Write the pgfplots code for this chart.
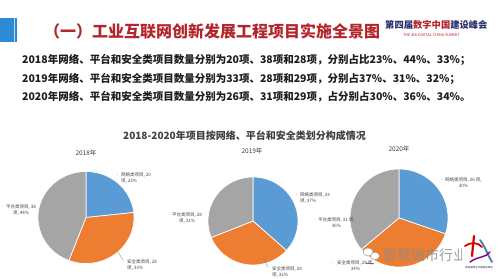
\documentclass[border=0pt]{standalone}
\usepackage{pgfplots}
\pgfplotsset{compat=1.18}
\usepackage{fontspec}
\setmainfont{Noto Sans CJK SC}
\definecolor{netblue}{HTML}{5B9BD5}
\definecolor{safeorange}{HTML}{ED7D31}
\definecolor{platgray}{HTML}{A5A5A5}
\definecolor{titlered}{HTML}{B3262B}
\definecolor{barblue}{HTML}{2D8BD6}
\definecolor{txt}{HTML}{1E1E1E}
\definecolor{lab}{HTML}{404040}
\definecolor{navy}{HTML}{2B2F6B}
% counts: network, safety, platform
\def\NetA{20}\def\SafeA{28}\def\PlatA{38}
\def\NetB{33}\def\SafeB{29}\def\PlatB{28}
\def\NetC{26}\def\SafeC{29}\def\PlatC{31}
\newcommand\piewedge[7]{%
  \edef\tmp{\noexpand\addplot[fill=#7, draw=white, line width=0.7pt, domain=#6:#5, samples=80] ({#1+#3*cos(x)},{#2-#4*sin(x)}) -- (axis cs:#1,#2) -- cycle;}\tmp}
\newcommand\piechart[7]{% cx cy rx ry net safe plat
  \pgfmathsetmacro\pa{90}%
  \pgfmathsetmacro\pb{90-360*#5/(#5+#6+#7)}%
  \pgfmathsetmacro\pc{\pb-360*#6/(#5+#6+#7)}%
  \pgfmathsetmacro\pd{-270}%
  \piewedge{#1}{#2}{#3}{#4}{\pa}{\pb}{netblue}%
  \piewedge{#1}{#2}{#3}{#4}{\pb}{\pc}{safeorange}%
  \piewedge{#1}{#2}{#3}{#4}{\pc}{\pd}{platgray}}
\newcommand\lbl{\fontsize{4.5}{5.6}\selectfont}
\begin{document}
\begin{tikzpicture}
\begin{axis}[width=499pt, height=279pt, scale only axis, xmin=0, xmax=499, ymin=0, ymax=279, y dir=reverse, hide axis, clip=false]
\fill[white] (axis cs:0,0) rectangle (axis cs:499,279);
% title bar
\fill[barblue] (axis cs:0,18) rectangle (axis cs:17,42);
\draw[white!70!barblue, line width=0.8pt] (axis cs:14.5,18) -- (axis cs:14.5,42);
\node[anchor=west, inner sep=0, text=titlered, font=\fontsize{16}{17}\selectfont\bfseries] at (axis cs:44,31) {（一）工业互联网创新发展工程项目实施全景图};
\node[anchor=west, inner sep=0, font=\fontsize{9.3}{10}\selectfont\bfseries] at (axis cs:385,25) {\textcolor{navy}{第四届}\textcolor{titlered}{数字中国}\textcolor{navy}{建设峰会}};
\node[anchor=west, inner sep=0, text=titlered, font=\fontsize{3.8}{4}\selectfont] at (axis cs:403,35) {THE 4th DIGITAL CHINA SUMMIT};
% text lines
\node[anchor=west, inner sep=0, text=txt, font=\fontsize{10.5}{11}\selectfont\bfseries] at (axis cs:22,60) {2018年网络、平台和安全类项目数量分别为20项、38项和28项，分别占比23\%、44\%、33\%；};
\node[anchor=west, inner sep=0, text=txt, font=\fontsize{10.5}{11}\selectfont\bfseries] at (axis cs:22,78.5) {2019年网络、平台和安全类项目数量分别为33项、28项和29项，分别占37\%、31\%、32\%；};
\node[anchor=west, inner sep=0, text=txt, font=\fontsize{10.5}{11}\selectfont\bfseries] at (axis cs:22,97) {2020年网络、平台和安全类项目数量分别为26项、31项和29项，占分别占30\%、36\%、34\%。};
% subtitle
\node[inner sep=0, text=lab, font=\fontsize{10}{11}\selectfont\bfseries] at (axis cs:244.5,136) {2018-2020年项目按网络、平台和安全类划分构成情况};
\node[inner sep=0, text=lab, font=\fontsize{6.5}{7}\selectfont] at (axis cs:86,153) {2018年};
\node[inner sep=0, text=lab, font=\fontsize{6.5}{7}\selectfont] at (axis cs:252,151) {2019年};
\node[inner sep=0, text=lab, font=\fontsize{6.5}{7}\selectfont] at (axis cs:399,149) {2020年};
% pies
\piechart{86}{217.5}{48}{46}{\NetA}{\SafeA}{\PlatA}
\piechart{253}{221}{45}{44}{\NetB}{\SafeB}{\PlatB}
\piechart{399}{218}{49}{49}{\NetC}{\SafeC}{\PlatC}
% leader lines
\draw[gray, line width=0.3pt] (axis cs:118,252) -- (axis cs:123,260);
\draw[gray, line width=0.3pt] (axis cs:263,258) -- (axis cs:268,267);
\draw[gray, line width=0.3pt] (axis cs:366,263) -- (axis cs:374,263);
% labels 2018
\node[inner sep=0, text=netblue, font=\lbl] at (axis cs:117.5,175) {•};
\node[anchor=west, align=left, inner sep=0, text=lab, font=\lbl] at (axis cs:121,177.8) {网络类项目, 20\\项, 23\%};
\node[inner sep=0, text=platgray, font=\lbl] at (axis cs:3,207) {•};
\node[align=center, inner sep=0, text=lab, font=\lbl] at (axis cs:21,209.8) {平台类项目, 38\\项, 44\%};
\node[inner sep=0, text=safeorange, font=\lbl] at (axis cs:123.5,262) {•};
\node[anchor=west, align=left, inner sep=0, text=lab, font=\lbl] at (axis cs:127,264.8) {安全类项目, 28\\项, 33\%};
% labels 2019
\node[inner sep=0, text=netblue, font=\lbl] at (axis cs:296.5,195) {•};
\node[anchor=west, align=left, inner sep=0, text=lab, font=\lbl] at (axis cs:300,197.8) {网络类项目, 33\\项, 37\%};
\node[inner sep=0, text=platgray, font=\lbl] at (axis cs:169,215) {•};
\node[anchor=west, align=center, inner sep=0, text=lab, font=\lbl] at (axis cs:172,217.8) {平台类项目, 28\\项, 31\%};
\node[anchor=west, align=left, inner sep=0, text=lab, font=\lbl] at (axis cs:272,271.8) {安全类项目, 29\\项, 32\%};
% labels 2020
\node[inner sep=0, text=netblue, font=\lbl] at (axis cs:442,180) {•};
\node[anchor=west, align=center, inner sep=0, text=lab, font=\lbl] at (axis cs:445,182.8) {网络类项目, 26 项,\\30\%};
\node[inner sep=0, text=platgray, font=\lbl] at (axis cs:315,220) {•};
\node[anchor=west, align=center, inner sep=0, text=lab, font=\lbl] at (axis cs:318,222.8) {平台类项目, 31 项,\\36\%};
\node[inner sep=0, text=safeorange, font=\lbl] at (axis cs:333,263) {•};
\node[anchor=west, align=center, inner sep=0, text=lab, font=\lbl] at (axis cs:337,265.8) {安全类项目, 29 项,\\34\%};
% watermark
\draw[gray!70, fill=white, line width=0.5pt] (axis cs:368,252) ellipse [x radius=5pt, y radius=4pt];
\draw[gray!70, fill=white, line width=0.5pt] (axis cs:375,256) ellipse [x radius=4.5pt, y radius=3.6pt];
\node[anchor=west, inner sep=0, text=black!45, opacity=0.85, font=\fontsize{14}{15}\selectfont] at (axis cs:383,255) {智慧城市行业动态};
% logo (approximate)
\fill[white, opacity=0.9] (axis cs:462,232) rectangle (axis cs:497,272);
\draw[red!85!black, line width=2.2pt, line cap=round] (axis cs:474,236) -- (axis cs:472,256);
\draw[red!85!black, line width=1.8pt, line cap=round] (axis cs:465,246) .. controls (axis cs:470,242) and (axis cs:478,242) .. (axis cs:482,247);
\draw[netblue!80!black, line width=1.8pt, line cap=round] (axis cs:480,240) .. controls (axis cs:486,248) and (axis cs:488,256) .. (axis cs:492,262);
\draw[violet, line width=1.4pt, line cap=round] (axis cs:470,262) .. controls (axis cs:478,256) and (axis cs:486,258) .. (axis cs:490,252);
\node[inner sep=0, text=navy, font=\fontsize{2.5}{3}\selectfont] at (axis cs:479,268) {第四届数字中国建设峰会};
\end{axis}
\pgfresetboundingbox
\path (current axis.south west) rectangle (current axis.north east);
\end{tikzpicture}
\end{document}
